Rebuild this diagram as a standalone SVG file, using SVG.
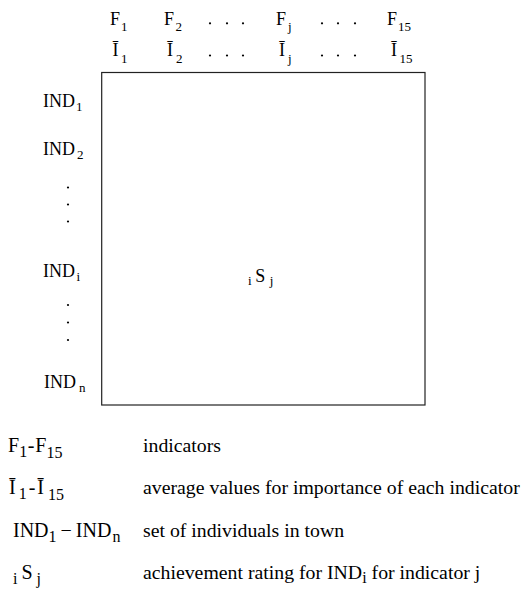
<svg xmlns="http://www.w3.org/2000/svg" width="521" height="596" viewBox="0 0 521 596" font-family="'Liberation Serif', 'Times New Roman', serif">
<style>
text { font-family: "Liberation Serif", "Times New Roman", serif; fill: #000; }
.h { font-size: 18px; }
.s { font-size: 13px; }
.lg { font-size: 20px; }
.ls { font-size: 16px; }
.d { font-size: 19.8px; }
.dot { fill: #000; }
.box { fill: none; stroke: #222; stroke-width: 1.2; }
</style>
<defs>
  <circle id="dt" r="1.1" class="dot"/>
</defs>
<rect x="0" y="0" width="521" height="596" fill="#fff"/>

<g id="columns">
  <g id="col-1">
    <text class="h" x="110" y="25">F<tspan class="s" dx="1" dy="6">1</tspan></text>
    <text class="h" x="112.5" y="56">Ī<tspan class="s" dx="2.5" dy="7">1</tspan></text>
  </g>
  <g id="col-2">
    <text class="h" x="164" y="25">F<tspan class="s" dx="1.5" dy="6">2</tspan></text>
    <text class="h" x="167" y="56">Ī<tspan class="s" dx="3" dy="7">2</tspan></text>
  </g>
  <g id="col-dots-1">
    <use href="#dt" x="210" y="23.3"/><use href="#dt" x="227" y="23.3"/><use href="#dt" x="243" y="23.3"/>
    <use href="#dt" x="210" y="55.5"/><use href="#dt" x="227" y="55.5"/><use href="#dt" x="243" y="55.5"/>
  </g>
  <g id="col-j">
    <text class="h" x="276" y="25">F<tspan class="s" dx="2" dy="6">j</tspan></text>
    <text class="h" x="279" y="56">Ī<tspan class="s" dx="3" dy="7">j</tspan></text>
  </g>
  <g id="col-dots-2">
    <use href="#dt" x="322" y="23.3"/><use href="#dt" x="338" y="23.3"/><use href="#dt" x="355" y="23.3"/>
    <use href="#dt" x="322" y="55.5"/><use href="#dt" x="338" y="55.5"/><use href="#dt" x="355" y="55.5"/>
  </g>
  <g id="col-15">
    <text class="h" x="387" y="25">F<tspan class="s" dx="1" dy="6">15</tspan></text>
    <text class="h" x="391" y="56">Ī<tspan class="s" dx="2.5" dy="7">15</tspan></text>
  </g>
</g>

<g id="rows">
  <g id="row-1"><text class="h" x="43" y="107">IND<tspan class="s" dx="1" dy="4">1</tspan></text></g>
  <g id="row-2"><text class="h" x="43" y="155">IND<tspan class="s" dx="2" dy="4">2</tspan></text></g>
  <g id="row-dots-1"><use href="#dt" x="68" y="187.5"/><use href="#dt" x="68" y="204.5"/><use href="#dt" x="68" y="221.5"/></g>
  <g id="row-i"><text class="h" x="43" y="277">IND<tspan class="s" dx="1.5" dy="4">i</tspan></text></g>
  <g id="row-dots-2"><use href="#dt" x="68" y="305"/><use href="#dt" x="68" y="322.5"/><use href="#dt" x="68" y="340"/></g>
  <g id="row-n"><text class="h" x="44" y="388">IND<tspan class="s" dx="3" dy="4">n</tspan></text></g>
</g>

<g id="matrix">
  <rect class="box" x="101.7" y="72.5" width="323.3" height="332.5"/>
  <text class="s" x="248" y="285">i<tspan class="h" dx="3.5" dy="-3">S</tspan><tspan class="s" dx="4.5" dy="3">j</tspan></text>
</g>

<g id="connectors"></g>

<g id="legend">
  <g id="legend-F">
    <text class="lg" x="8" y="452">F<tspan class="ls" dy="5">1</tspan><tspan dx="0.5" dy="-5">-</tspan><tspan dx="1">F</tspan><tspan class="ls" dy="6">15</tspan></text>
    <text class="d" x="143" y="452">indicators</text>
  </g>
  <g id="legend-I">
    <text class="lg" x="9" y="494">Ī<tspan class="ls" dx="3" dy="5">1</tspan><tspan dx="2" dy="-5">-</tspan><tspan dx="2">Ī</tspan><tspan class="ls" dx="4" dy="6">15</tspan></text>
    <text class="d" x="143" y="494">average values for importance of each indicator</text>
  </g>
  <g id="legend-IND">
    <text class="lg" x="13" y="537">IND<tspan class="ls" dy="5">1</tspan><tspan dx="4" dy="-5">−</tspan><tspan dx="4">IND</tspan><tspan class="ls" dx="1" dy="5">n</tspan></text>
    <text class="d" x="143" y="537">set of individuals in town</text>
  </g>
  <g id="legend-S">
    <text class="ls" x="13" y="584">i<tspan class="lg" dx="4" dy="-5">S</tspan><tspan class="ls" dx="4" dy="5">j</tspan></text>
    <text class="d" x="143" y="579">achievement rating for IND<tspan class="ls" dy="4">i</tspan><tspan dy="-4"> for indicator j</tspan></text>
  </g>
</g>
</svg>
